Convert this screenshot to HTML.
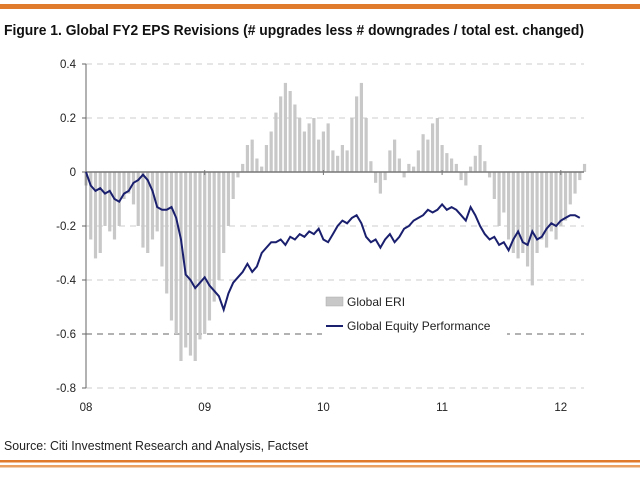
<!DOCTYPE html>
<html><head><meta charset="utf-8"><style>
body{margin:0;background:#fff;width:640px;height:477px;overflow:hidden;font-family:"Liberation Sans",Arial,sans-serif}
</style></head><body>
<svg width="640" height="477" viewBox="0 0 640 477">
<rect x="0" y="4" width="640" height="5" fill="#e07a2c"/>
<text x="4" y="35" font-size="14.5" font-weight="bold" fill="#111" textLength="580" lengthAdjust="spacingAndGlyphs">Figure 1. Global FY2 EPS Revisions (# upgrades less # downgrades / total est. changed)</text>
<g id="grid"></g>
<g id="bars"></g>
<g id="axes"></g>
<path id="line" fill="none" stroke="#1a1f6e" stroke-width="2"/>
<rect x="322" y="290" width="185" height="50" fill="#fff"/>
<rect x="326" y="297" width="17" height="9" fill="#c8c8c8" stroke="#aaa" stroke-width="0.5"/>
<text x="347" y="306" font-size="12" fill="#222">Global ERI</text>
<line x1="326" y1="326" x2="343" y2="326" stroke="#1a1f6e" stroke-width="2"/>
<text x="347" y="330" font-size="12" fill="#222">Global Equity Performance</text>
<text x="4" y="450" font-size="12.5" fill="#222" textLength="304" lengthAdjust="spacingAndGlyphs">Source: Citi Investment Research and Analysis, Factset</text>
<rect x="0" y="460" width="640" height="2.5" fill="#e07a2c"/>
<rect x="0" y="465" width="640" height="2.5" fill="#e9a060"/>
</svg>
<script>
const yTicks=[0.4,0.2,0,-0.2,-0.4,-0.6,-0.8];
const yTickLabels=["0.4","0.2","0","-0.2","-0.4","-0.6","-0.8"];
const xTicks=[0,1,2,3,4];
const xTickLabels=["08","09","10","11","12"];
const tStep=0.04;
const eriValues=[-0.05,-0.25,-0.32,-0.3,-0.2,-0.22,-0.25,-0.2,-0.1,-0.08,-0.12,-0.2,-0.28,-0.3,-0.25,-0.22,-0.35,-0.45,-0.55,-0.6,-0.7,-0.65,-0.68,-0.7,-0.62,-0.6,-0.55,-0.48,-0.4,-0.3,-0.2,-0.1,-0.02,0.03,0.1,0.12,0.05,0.02,0.1,0.15,0.22,0.28,0.33,0.3,0.25,0.2,0.15,0.18,0.2,0.12,0.15,0.18,0.08,0.06,0.1,0.08,0.2,0.28,0.33,0.2,0.04,-0.04,-0.08,-0.03,0.08,0.12,0.05,-0.02,0.03,0.02,0.08,0.14,0.12,0.18,0.2,0.1,0.07,0.05,0.03,-0.03,-0.05,0.02,0.06,0.1,0.04,-0.02,-0.1,-0.2,-0.15,-0.25,-0.3,-0.32,-0.3,-0.35,-0.42,-0.3,-0.25,-0.28,-0.22,-0.25,-0.2,-0.18,-0.12,-0.08,-0.03,0.03];
const equityValues=[0,-0.05,-0.07,-0.06,-0.08,-0.07,-0.1,-0.11,-0.08,-0.07,-0.04,-0.03,-0.01,-0.03,-0.07,-0.13,-0.14,-0.14,-0.13,-0.17,-0.25,-0.38,-0.4,-0.43,-0.41,-0.39,-0.42,-0.44,-0.46,-0.51,-0.45,-0.41,-0.39,-0.37,-0.34,-0.37,-0.35,-0.3,-0.28,-0.26,-0.26,-0.25,-0.27,-0.24,-0.25,-0.23,-0.24,-0.22,-0.23,-0.21,-0.25,-0.26,-0.23,-0.2,-0.18,-0.19,-0.17,-0.16,-0.19,-0.24,-0.26,-0.25,-0.28,-0.25,-0.23,-0.26,-0.24,-0.21,-0.2,-0.18,-0.17,-0.16,-0.14,-0.15,-0.14,-0.12,-0.14,-0.13,-0.14,-0.16,-0.18,-0.13,-0.16,-0.2,-0.23,-0.25,-0.24,-0.27,-0.26,-0.29,-0.25,-0.22,-0.26,-0.27,-0.22,-0.25,-0.24,-0.21,-0.19,-0.2,-0.18,-0.17,-0.16,-0.16,-0.17];
const NS="http://www.w3.org/2000/svg";
const X0=86,XW=118.7,Y0=172,YS=270,XR=584;
function xs(t){return X0+t*XW;}
function ys(v){return Y0-v*YS;}
function mk(tag,attrs,parent){const e=document.createElementNS(NS,tag);for(const k in attrs)e.setAttribute(k,attrs[k]);document.getElementById(parent).appendChild(e);return e;}
yTicks.forEach((v,i)=>{
  if(v!==0){
    const g=mk('line',{x1:X0,x2:XR,y1:ys(v),y2:ys(v),stroke:v===-0.6?'#666':'#ccc','stroke-dasharray':'6,5','stroke-width':1},'grid');
    
    
  }
  const tk=mk('line',{x1:X0-4,x2:X0,y1:ys(v),y2:ys(v),stroke:'#666'},'axes');
  
  
  const t=mk('text',{x:X0-10,y:ys(v)+4,'font-size':11.5,'text-anchor':'end',fill:'#222'},'axes');
  t.textContent=yTickLabels[i];
  
  
});
xTicks.forEach((v,i)=>{
  const t=mk('text',{x:xs(v),y:411,'font-size':11.5,'text-anchor':'middle',fill:'#222'},'axes');
  t.textContent=xTickLabels[i];
  
  
  const tk=mk('line',{x1:xs(v),x2:xs(v),y1:Y0-2,y2:Y0+3,stroke:'#777'},'axes');
  
  
});
eriValues.forEach((v,i)=>{
  const x=xs(i*tStep);
  const b=mk('rect',{x:x-1.6,width:3.2,y:Math.min(ys(v),Y0),height:Math.abs(ys(v)-Y0),fill:'#c8c8c8'},'bars');
  
  
});
const ya=mk('line',{x1:X0,x2:X0,y1:ys(0.4),y2:ys(-0.8),stroke:'#666'},'axes');


const za=mk('line',{x1:X0,x2:XR,y1:Y0,y2:Y0,stroke:'#777','stroke-width':1.5},'axes');


document.getElementById('line').setAttribute('d',equityValues.map((v,i)=>(i?'L':'M')+xs(i*tStep).toFixed(1)+','+ys(v).toFixed(1)).join(''));
</script>
</body></html>
